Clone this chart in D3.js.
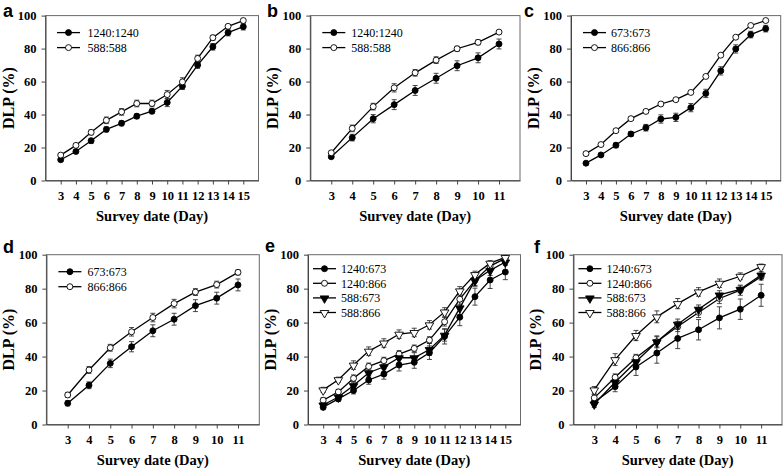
<!DOCTYPE html>
<html><head><meta charset="utf-8">
<script src="https://cdn.jsdelivr.net/npm/d3@7"></script>
<style>body{margin:0;background:#fff}svg{display:block}</style>
</head><body>
<svg id="chart" width="784" height="473"></svg>
<script>
// ---- data ----
const daysLong = [3,4,5,6,7,8,9,10,11,12,13,14,15];
const daysShort = [3,4,5,6,7,8,9,10,11];
const yTicks = [0,20,40,60,80,100];

// panel a
const a_1240_1240 = [12.6,17.6,24.1,31,34.7,39,42,47.3,57.2,70,81.1,89.7,93.3];
const a_1240_1240_err = [1,1,1.5,1.5,1.5,1.5,1.5,2.5,2,2,2,2,2];
const a_588_588 = [15.4,21.3,29.2,36.5,41.6,46.7,46.7,52.1,59.8,74,86.6,93.5,97];
const a_588_588_err = [1,1,1.5,2,2,2,2,2.5,2.5,2,1.5,1,1];
// panel b
const b_1240_1240 = [14.4,26,37.5,46,54.6,62,69.6,74.4,82.8];
const b_1240_1240_err = [1,2,2.5,3,3,3,3,3,3];
const b_588_588 = [16.8,31.6,44.8,56.2,65.3,73,79.9,83.8,90];
const b_588_588_err = [1,2,2,2.5,2,2,1.5,1.5,1];
// panel c
const c_673_673 = [10.5,15.5,21.4,28.2,32,37.3,38.3,44.2,52.8,66.5,79.8,88.5,92.1];
const c_673_673_err = [1,1,1.5,1.5,2,2.5,2.5,2.5,2.5,2.5,2.5,2,2];
const c_866_866 = [16.3,21.8,30.2,37.5,41.9,46.4,49,53.4,63.1,76,86.9,94,97];
const c_866_866_err = [1,1,1,1,1,1,1,1,1,1,1,1,1];
// panel d
const d_673_673 = [12.5,23.1,36,45.8,55.2,62,70,74.4,82.2];
const d_673_673_err = [1.5,2,2.5,3,3.5,3.5,3.5,3.5,3.5];
const d_866_866 = [17.4,32.1,45.2,54.6,63,71.2,78,82.4,89.6];
const d_866_866_err = [1.5,2,2,2.5,2.5,2.5,2,2,1.5];
// panel e
const e_1240_673 = [10.2,15.1,20,26.2,29.7,35,36.6,42.3,51.9,63.2,75.3,85.1,89.8];
const e_1240_673_err = [1.5,1.5,2,2.5,3,3.5,3.5,4,4.5,5,5,5,4.5];
const e_1240_866 = [14.3,19.2,27.2,34.2,37.6,41.5,44.8,49.7,60.5,73.8,84.9,93.3,97.8];
const e_1240_866_err = [1.5,1.5,2,2,2,2,2,2,2.5,3,3,1.5,1];
const e_588_673 = [11.5,16.2,22.9,30.5,34,39.3,39.3,44.2,52.6,68.7,84.9,90.8,95.7];
const e_588_673_err = [1.5,1.5,2,2.5,3,3,3,3.5,3.5,4,3.5,3,2];
const e_588_866 = [20.4,26.4,35,43.2,48,53.2,54.2,58.7,66.3,78.7,88.3,95,98.4];
const e_588_866_err = [1.5,1.5,2.5,2.5,2.5,2.5,2.5,2.5,2.5,2.5,2,1.5,1];
// panel f
const f_1240_673 = [13.1,22.3,33.9,42.1,50.7,55.8,62.8,67.9,76.1];
const f_1240_673_err = [2,3,5,6,6,6,6.5,6,6.5];
const f_1240_866 = [15.7,27.8,39.3,48.7,57.7,66,74.2,79.1,87.1];
const f_1240_866_err = [2,2,2,3,3,3,3,3,2];
const f_588_673 = [12.1,24.9,37,48.7,59.1,67.9,76.3,79.6,88];
const f_588_673_err = [2,2.5,3,3.5,3,2.5,2.5,2,2];
const f_588_866 = [20.4,38.2,52.4,63.4,71.2,78.1,83.2,87.3,93];
const f_588_866_err = [2,3.5,3,3.5,3,2.5,2.5,2,1.5];

// ---- panels (data + layout) ----
const panels = [
  {letter:"a", days:daysLong, xDom:[2,16], box:{l:45.5,r:258.5,t:15.6,b:180.5}, letterPos:[3,17], leg:{x0:11.5,tx:42,y0:17,dy:15},
   series:[{name:"1240:1240",v:a_1240_1240,e:a_1240_1240_err,shape:"circle",fill:true},
           {name:"588:588",v:a_588_588,e:a_588_588_err,shape:"circle",fill:false}]},
  {letter:"b", days:daysShort, xDom:[2,12], box:{l:310.3,r:520,t:15.6,b:180.5}, letterPos:[267,17], leg:{x0:12,tx:41,y0:17,dy:15},
   series:[{name:"1240:1240",v:b_1240_1240,e:b_1240_1240_err,shape:"circle",fill:true},
           {name:"588:588",v:b_588_588,e:b_588_588_err,shape:"circle",fill:false}]},
  {letter:"c", days:daysLong, xDom:[2,16], box:{l:571,r:780.7,t:15.6,b:180.5}, letterPos:[524,17], leg:{x0:12,tx:40,y0:17,dy:15},
   series:[{name:"673:673",v:c_673_673,e:c_673_673_err,shape:"circle",fill:true},
           {name:"866:866",v:c_866_866,e:c_866_866_err,shape:"circle",fill:false}]},
  {letter:"d", days:daysShort, xDom:[2,12], box:{l:46.4,r:259.3,t:254.7,b:424.5}, letterPos:[3,253], leg:{x0:12,tx:41,y0:17,dy:15},
   series:[{name:"673:673",v:d_673_673,e:d_673_673_err,shape:"circle",fill:true},
           {name:"866:866",v:d_866_866,e:d_866_866_err,shape:"circle",fill:false}]},
  {letter:"e", days:daysLong, xDom:[2,16], box:{l:308,r:520.5,t:254.7,b:424.5}, letterPos:[265,252], leg:{x0:5,tx:33,y0:14,dy:14.6},
   series:[{name:"1240:673",v:e_1240_673,e:e_1240_673_err,shape:"circle",fill:true},
           {name:"1240:866",v:e_1240_866,e:e_1240_866_err,shape:"circle",fill:false},
           {name:"588:673",v:e_588_673,e:e_588_673_err,shape:"tri",fill:true},
           {name:"588:866",v:e_588_866,e:e_588_866_err,shape:"tri",fill:false}]},
  {letter:"f", days:daysShort, xDom:[2,12], box:{l:573.4,r:782,t:254.7,b:424.5}, letterPos:[534,253], leg:{x0:5,tx:33,y0:14,dy:14.6},
   series:[{name:"1240:673",v:f_1240_673,e:f_1240_673_err,shape:"circle",fill:true},
           {name:"1240:866",v:f_1240_866,e:f_1240_866_err,shape:"circle",fill:false},
           {name:"588:673",v:f_588_673,e:f_588_673_err,shape:"tri",fill:true},
           {name:"588:866",v:f_588_866,e:f_588_866_err,shape:"tri",fill:false}]}
];

const svg = d3.select("#chart");
svg.append("rect").attr("width",784).attr("height",473).attr("fill","#fff");
const serif = "'Liberation Serif','Times New Roman',serif";
const sans = "'Liberation Sans',Arial,sans-serif";
const circleSym = d3.symbol().type(d3.symbolCircle).size(28);
const triSym = d3.symbol().type(d3.symbolTriangle).size(32);

function marker(g, shape, fill, x, y){
  return g.append("path")
    .attr("d", shape==="circle" ? circleSym() : triSym())
    .attr("transform", shape==="circle" ? `translate(${x},${y})` : `translate(${x},${y+0.5}) rotate(180)`)
    .attr("fill", fill ? "#000" : "#fff")
    .attr("stroke","#000").attr("stroke-width",0.9);
}

panels.forEach(p => {
  const B = p.box;
  const x = d3.scaleLinear().domain(p.xDom).range([B.l,B.r]);
  const y = d3.scaleLinear().domain([0,100]).range([B.b,B.t]);
  const g = svg.append("g");

  // frame
  g.append("rect").attr("x",B.l).attr("y",B.t).attr("width",B.r-B.l).attr("height",B.b-B.t)
    .attr("fill","none").attr("stroke","#6a6a6a").attr("stroke-width",1);

  // axes
  const xa = g.append("g").attr("transform",`translate(0,${B.b})`)
    .call(d3.axisBottom(x).tickValues(p.days).tickFormat(d3.format("d")).tickSize(4).tickPadding(7).tickSizeOuter(0));
  const ya = g.append("g").attr("transform",`translate(${B.l},0)`)
    .call(d3.axisLeft(y).tickValues(yTicks).tickSize(4).tickPadding(5).tickSizeOuter(0));
  [xa,ya].forEach(a => {
    a.select(".domain").attr("stroke","#444");
    a.selectAll(".tick line").attr("stroke","#444");
    a.selectAll("text").attr("font-family",serif).attr("font-weight","bold").attr("font-size","12.5px").attr("fill","#000");
  });

  // titles
  g.append("text").attr("x",(B.l+B.r)/2).attr("y",B.b+40).attr("text-anchor","middle")
    .attr("font-family",serif).attr("font-weight","bold").attr("font-size","14.5px").text("Survey date (Day)");
  const ly = (B.t+B.b)/2, lx = B.l-32;
  g.append("text").attr("transform",`translate(${lx},${ly}) rotate(-90)`).attr("text-anchor","middle")
    .attr("font-family",serif).attr("font-weight","bold").attr("font-size","16px").text("DLP (%)");
  // panel letter
  svg.append("text").attr("x",p.letterPos[0]).attr("y",p.letterPos[1])
    .attr("font-family",sans).attr("font-weight","bold").attr("font-size","18px").text(p.letter);

  // error bars
  p.series.forEach(s => {
    const eg = g.append("g").attr("stroke","#333").attr("stroke-width",0.9);
    p.days.forEach((d,i) => {
      const cx = x(d), y1 = y(s.v[i]-s.e[i]), y2 = y(s.v[i]+s.e[i]);
      eg.append("line").attr("x1",cx).attr("x2",cx).attr("y1",y1).attr("y2",y2);
      eg.append("line").attr("x1",cx-2.5).attr("x2",cx+2.5).attr("y1",y1).attr("y2",y1);
      eg.append("line").attr("x1",cx-2.5).attr("x2",cx+2.5).attr("y1",y2).attr("y2",y2);
    });
  });
  // lines
  const line = d3.line().x((d,i)=>x(p.days[i])).y(d=>y(d));
  p.series.forEach(s => {
    g.append("path").attr("d",line(s.v)).attr("fill","none").attr("stroke","#000").attr("stroke-width",1.3);
  });
  // markers
  p.series.forEach(s => {
    p.days.forEach((d,i) => marker(g, s.shape, s.fill, x(d), y(s.v[i])));
  });

  // legend
  p.series.forEach((s,k) => {
    const yy = B.t + p.leg.y0 + k*p.leg.dy;
    const x0 = B.l + p.leg.x0;
    g.append("line").attr("x1",x0).attr("x2",x0+23).attr("y1",yy).attr("y2",yy).attr("stroke","#000").attr("stroke-width",1.3);
    marker(g, s.shape, s.fill, x0+11.5, yy);
    g.append("text").attr("x",B.l+p.leg.tx).attr("y",yy).attr("dy","0.35em")
      .attr("font-family",serif).attr("font-size","12px").text(s.name);
  });
});
</script>
</body></html>
